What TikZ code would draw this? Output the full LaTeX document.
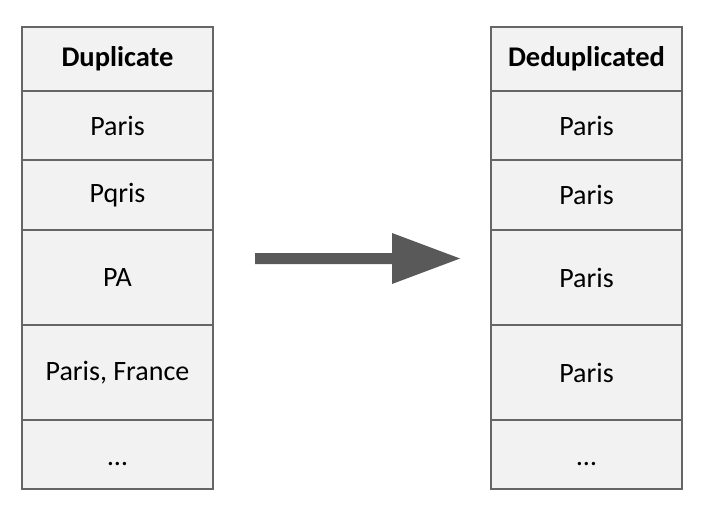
\documentclass[tikz,border=0pt]{standalone}
\usepackage{fontspec}
\setmainfont{Carlito}
\begin{document}
\begin{tikzpicture}[x=1pt,y=-1pt,
  cell/.style={draw=black!60,fill=black!5,line width=1.6pt,outer sep=0pt,minimum width=191pt,inner sep=0pt,font=\fontsize{28}{32}\selectfont},
  hcell/.style={cell,font=\fontsize{28.5}{32}\selectfont\bfseries},
  arr/.style={fill=black!65,draw=none}]
\useasboundingbox (0,0) rectangle (706,513);
% left column
\node[hcell,minimum height=64pt,anchor=north west] (l0) at (22,27) {Duplicate};
\node[cell,minimum height=69pt,anchor=north] (l1) at (l0.south) {Paris};
\node[cell,minimum height=70pt,anchor=north] (l2) at (l1.south) {Pqris};
\node[cell,minimum height=95pt,anchor=north] (l3) at (l2.south) {PA};
\node[cell,minimum height=95pt,anchor=north] (l4) at (l3.south) {Paris, France};
\node[cell,minimum height=69pt,anchor=north] (l5) at (l4.south) {\raisebox{-11pt}[0pt][0pt]{\dots}};
% right column
\node[hcell,minimum height=64pt,anchor=north west] (r0) at (491,27) {Deduplicated};
\node[cell,minimum height=69pt,anchor=north] (r1) at (r0.south) {Paris};
\node[cell,minimum height=70pt,anchor=north] (r2) at (r1.south) {Paris};
\node[cell,minimum height=95pt,anchor=north] (r3) at (r2.south) {Paris};
\node[cell,minimum height=95pt,anchor=north] (r4) at (r3.south) {Paris};
\node[cell,minimum height=69pt,anchor=north] (r5) at (r4.south) {\raisebox{-11pt}[0pt][0pt]{\dots}};
% arrow
\fill[arr] (255,253) -- (392,253) -- (392,233) -- (460,258.5) -- (392,284) -- (392,264) -- (255,264) -- cycle;
\end{tikzpicture}
\end{document}
